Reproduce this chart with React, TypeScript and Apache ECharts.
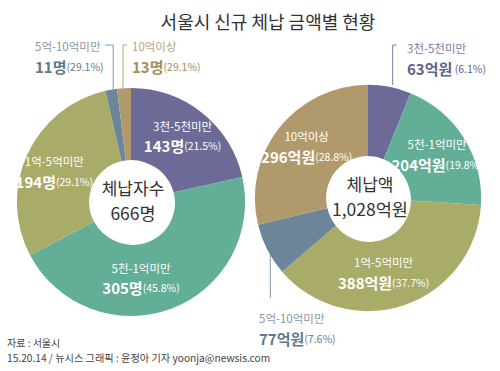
import React, { useEffect, useRef } from "react";
import * as echarts from "echarts";

const categories = ["3천-5천미만", "5천-1억미만", "1억-5억미만", "5억-10억미만", "10억이상"];
const personValues = [143, 305, 194, 11, 13];
const personPct = ["21.5%", "45.8%", "29.1%", "29.1%", "29.1%"];
const amountValues = [63, 204, 388, 77, 296];
const amountPct = ["6.1%", "19.8%", "37.7%", "7.6%", "28.8%"];

const sliceColors = ["#6c6b98", "#62ae96", "#a9ab69", "#6b8699", "#b09a6b"];
const outerName = ["#7a79a4", "#62ae96", "#a9ab69", "#8298a8", "#b8a47a"];
const outerNum = ["#605f8e", "#62ae96", "#a9ab69", "#5f7a8d", "#a88d57"];

const FONT = "'Noto Sans CJK KR', 'Noto Sans', sans-serif";

function makeData(values: number[], pcts: string[], unit: string, outerIdx: number[], spaced: number[]) {
  return values.map((v, i) => {
    const outer = outerIdx.includes(i);
    const sp = spaced.includes(i) ? " " : "";
    const item: any = {
      name: categories[i],
      value: v,
      itemStyle: { color: sliceColors[i] },
      label: {
        position: outer ? "outside" : "inside",
        formatter: `{a|${categories[i]}}\n{b|${v}${unit}}{c|${sp}(${pcts[i]})}`,
        rich: {
          a: { fontFamily: FONT, fontSize: 11.5, lineHeight: 20, color: outer ? outerName[i] : "#ffffff" },
          b: { fontFamily: FONT, fontSize: 15, fontWeight: "bold", lineHeight: 20, color: outer ? outerNum[i] : "#ffffff" },
          c: { fontFamily: FONT, fontSize: 10.5, lineHeight: 20, color: outer ? outerNum[i] : "#ffffff" },
        },
      },
      labelLine: outer
        ? { show: true, length: 10, length2: 5, lineStyle: { color: outerName[i], width: 1 } }
        : { show: false },
    };
    return item;
  });
}

const leftInnerOffsets: Record<number, [number, number]> = { 0: [1, -3], 1: [-18, 0], 2: [-3, 3] };
const rightInnerOffsets: Record<number, [number, number]> = { 1: [1, -1], 2: [-10, -2], 4: [2, -2] };

function centerText(x: number, y: number, text: string, size: number) {
  return {
    type: "text",
    x,
    y,
    z: 11,
    style: {
      text,
      fontFamily: FONT,
      fontSize: size,
      align: "center",
      verticalAlign: "middle",
      fill: "#333333",
    },
  };
}

export default function App() {
  const ref = useRef<HTMLDivElement>(null);
  useEffect(() => {
    if (!ref.current) return;
    const chart = echarts.init(ref.current, undefined, { renderer: "svg" });
    const option: any = {
      animation: false,
      backgroundColor: "#ffffff",
      title: {
        text: "서울시 신규 체납 금액별 현황",
        left: 263,
        textAlign: "center",
        top: 7,
        textStyle: { fontFamily: FONT, fontSize: 18, fontWeight: "normal", color: "#333333" },
      },
      graphic: [
        { type: "circle", shape: { cx: 133, cy: 203, r: 42 }, style: { fill: "#ffffff" }, z: 10 },
        { type: "circle", shape: { cx: 369, cy: 200, r: 42 }, style: { fill: "#ffffff" }, z: 10 },
        centerText(133, 187, "체납자수", 17),
        centerText(133, 212, "666명", 17.5),
        centerText(370, 183, "체납액", 17),
        centerText(370, 208, "1,028억원", 17.5),
        {
          type: "text",
          x: 7,
          y: 342,
          style: { text: "자료 : 서울시", fontFamily: FONT, fontSize: 10, verticalAlign: "middle", fill: "#444444" },
        },
        {
          type: "text",
          x: 7,
          y: 357,
          style: {
            text: "15.20.14 / 뉴시스 그래픽 : 윤정아 기자 yoonja@newsis.com",
            fontFamily: FONT,
            fontSize: 10.2,
            verticalAlign: "middle",
            fill: "#444444",
          },
        },
      ],
      series: [
        {
          type: "pie",
          center: [131, 202],
          radius: ["22.6%", "61.5%"],
          startAngle: 90,
          clockwise: true,
          avoidLabelOverlap: false,
          data: makeData(personValues, personPct, "명", [3, 4], []),
          labelLayout: (p: any) => {
            const i = p.dataIndex;
            if (leftInnerOffsets[i]) {
              return { dx: leftInnerOffsets[i][0], dy: leftInnerOffsets[i][1] };
            }
            const e = p.labelLinePoints ? p.labelLinePoints[0] : [120, 90];
            if (i === 3) {
              return {
                x: 35,
                y: 36,
                align: "left",
                verticalAlign: "top",
                labelLinePoints: [[e[0] + 2, e[1]], [e[0] + 2, 45], [e[0] - 6, 45]],
              };
            }
            return {
              x: 132,
              y: 36,
              align: "left",
              verticalAlign: "top",
              labelLinePoints: [[e[0] - 1, e[1]], [e[0] - 1, 45], [e[0] + 3, 45]],
            };
          },
        },
        {
          type: "pie",
          center: [368, 198],
          radius: ["22.6%", "61%"],
          startAngle: 90,
          clockwise: true,
          avoidLabelOverlap: false,
          data: makeData(amountValues, amountPct, "억원", [0, 3], [0]),
          labelLayout: (p: any) => {
            const i = p.dataIndex;
            if (rightInnerOffsets[i]) {
              return { dx: rightInnerOffsets[i][0], dy: rightInnerOffsets[i][1] };
            }
            const e = p.labelLinePoints ? p.labelLinePoints[0] : [390, 86];
            if (i === 0) {
              return {
                x: 407,
                y: 38,
                align: "left",
                verticalAlign: "top",
                labelLinePoints: [[e[0] + 3, e[1] - 2], [e[0] + 3, 45], [e[0] + 7, 45]],
              };
            }
            return {
              x: 259,
              y: 308,
              align: "left",
              verticalAlign: "top",
              labelLinePoints: [[e[0] + 3, e[1] + 2], [e[0] + 3, 298], [e[0] + 3, 298]],
            };
          },
        },
      ],
    };
    chart.setOption(option);
    return () => chart.dispose();
  }, []);
  return <div ref={ref} style={{ position: "fixed", left: 0, top: 0, width: 500, height: 371 }} />;
}
